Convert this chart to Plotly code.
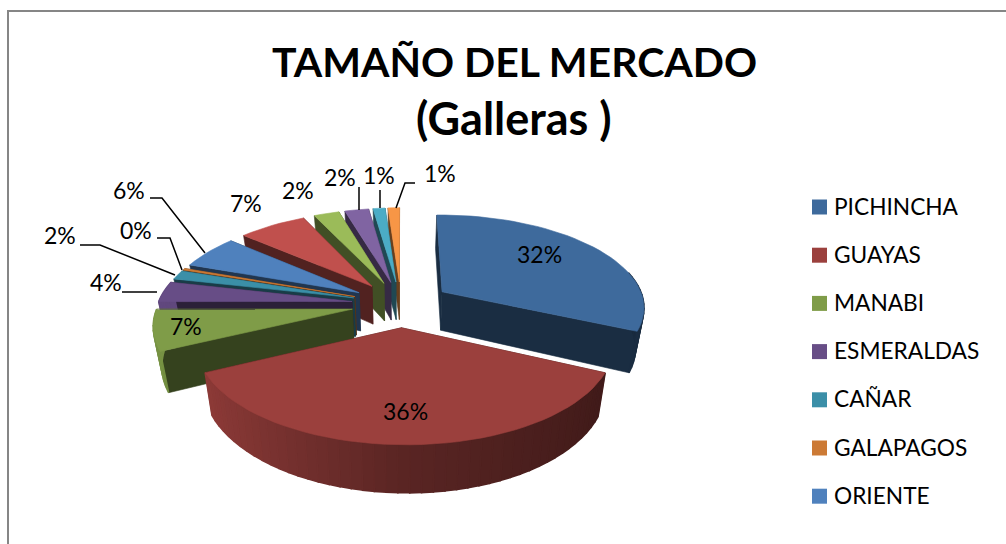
import math
import plotly.graph_objects as go

# ---- data ----
categories = ["PICHINCHA", "GUAYAS", "MANABI", "ESMERALDAS", "CAÑAR", "GALAPAGOS", "ORIENTE",
              "AZUAY", "LOJA", "TUNGURAHUA", "EL ORO", "IMBABURA"]
values = [31.8, 36.0, 7.1, 3.6, 1.6, 0.3, 5.9, 6.6, 2.45, 2.3, 1.15, 1.1]
percent_labels = ["32%", "36%", "7%", "4%", "2%", "0%", "6%", "7%", "2%", "2%", "1%", "1%"]
legend_count = 7
colors = ["#3e6a9c", "#9b403d", "#7f9c48", "#674d86", "#3b8fa8", "#cc7a35", "#4f81bd",
          "#c0504d", "#9bbb59", "#8064a2", "#4bacc6", "#f79646"]
title_lines = ["TAMAÑO DEL MERCADO", "(Galleras )"]

# ---- projection of the tilted, exploded disc into the 1006x544 plot frame ----
CX, CY, RX, RY, K, YAW, EXPLODE, DEPTH, SHRINK = 401, 304, 198.5, 91.5, 0.15, 0.015, 0.25, 39, 0.965


def project(u, v, bottom=False):
    s = 1 / (1 - K * v - YAW * u)
    x = CX + RX * u * s
    y = CY + RY * v * s
    if bottom:
        x = CX + (x - CX) * SHRINK
        y = y + DEPTH * s
    return x, y


def rgb(hex_color, f):
    r, g, b = (int(hex_color[i:i + 2], 16) for i in (1, 3, 5))
    return f"rgb({min(255, round(r * f))},{min(255, round(g * f))},{min(255, round(b * f))})"


def wall_shade(theta):
    s = math.sin(theta)
    return 0.58 - 0.18 * s if s > 0 else 0.58 - 0.36 * s


fig = go.Figure()


def poly(points, color, lw=0.6):
    xs, ys = zip(*points)
    fig.add_trace(go.Scatter(x=list(xs) + [xs[0]], y=list(ys) + [ys[0]], mode="lines", fill="toself",
                             fillcolor=color, line=dict(color=color, width=lw),
                             hoverinfo="skip", showlegend=False))


total = sum(values)
slices = []
start = 0.0
for i, val in enumerate(values):
    sweep = 2 * math.pi * val / total
    slices.append((i, start, start + sweep))
    start += sweep

# paint back to front
slices.sort(key=lambda t: -math.cos((t[1] + t[2]) / 2))

for i, a0, a1 in slices:
    mid = (a0 + a1) / 2
    du, dv = EXPLODE * math.sin(mid), -EXPLODE * math.cos(mid)
    n = max(3, int((a1 - a0) / 0.05))
    thetas = [a0 + (a1 - a0) * j / n for j in range(n + 1)]
    rim = [(du + math.sin(t), dv - math.cos(t)) for t in thetas]
    apex = (du, dv)
    col = colors[i]
    dark = rgb(col, 0.42)

    walls = sorted([rim[0], rim[-1]], key=lambda p: p[1])
    for p in walls:
        poly([project(*apex), project(*p), project(*p, bottom=True), project(*apex, bottom=True)], dark)
    for j in range(n):
        tm = (thetas[j] + thetas[j + 1]) / 2
        if -math.cos(tm) > -0.2:
            poly([project(*rim[j]), project(*rim[j + 1]),
                  project(*rim[j + 1], bottom=True), project(*rim[j], bottom=True)],
                 rgb(col, wall_shade(tm)), lw=1.6)
    poly([project(*apex)] + [project(*p) for p in rim], col)

# legend: seven entries are visible in the reference
LEGEND_Y0, LEGEND_STEP = 207, 48.2
for i in range(legend_count):
    fig.add_trace(go.Scatter(x=[819.5], y=[LEGEND_Y0 + i * LEGEND_STEP], mode="markers",
                             marker=dict(symbol="square", size=15, color=colors[i]),
                             name=categories[i], hoverinfo="skip", showlegend=False))

# percent labels (placement by hand, text from the data)
label_pos = [(539, 254), (405, 411), (186, 326), (106, 282), (60, 235), (136, 230),
             (129, 190), (246, 203), (298, 190), (340, 177), (379, 175), (440, 173)]
annotations = [dict(x=x, y=y, text=t, showarrow=False, xanchor="center", yanchor="middle",
                    font=dict(family="Lato", size=23, color="#000000"))
               for t, (x, y) in zip(percent_labels, label_pos)]
annotations += [dict(x=832, y=LEGEND_Y0 - 1 + i * LEGEND_STEP, text=categories[i], showarrow=False,
                     xanchor="left", yanchor="middle",
                     font=dict(family="Lato", size=22.7, color="#000000"))
                for i in range(legend_count)]
annotations += [dict(x=514, y=y, text=t, showarrow=False, xanchor="center", yanchor="middle",
                     font=dict(family="Lato", size=s, color="#000000", weight="bold"))
                for t, y, s in zip(title_lines, (61, 118), (41, 45))]

leaders = [[(122, 292), (157, 292)],
           [(80, 245), (100, 245), (175, 275)],
           [(157, 238), (170, 238), (182, 270)],
           [(150, 198), (162, 198), (205, 253)],
           [(359, 187), (359, 210)],
           [(380, 190), (380, 208)],
           [(415, 183), (405, 183), (396, 208)]]
for pts in leaders:
    fig.add_trace(go.Scatter(x=[p[0] for p in pts], y=[p[1] for p in pts], mode="lines",
                             line=dict(color="#000000", width=1.5), hoverinfo="skip", showlegend=False))

frame = [dict(type="line", x0=8, x1=8, y0=10.5, y1=544, line=dict(color="#868686", width=2)),
         dict(type="line", x0=7, x1=1006, y0=11, y1=11, line=dict(color="#868686", width=2))]

fig.update_layout(width=1006, height=544, margin=dict(l=0, r=0, t=0, b=0),
                  paper_bgcolor="#ffffff", plot_bgcolor="#ffffff", showlegend=False,
                  xaxis=dict(range=[0, 1006], visible=False, fixedrange=True),
                  yaxis=dict(range=[544, 0], visible=False, fixedrange=True),
                  annotations=annotations, shapes=frame)
fig.write_html("out.html", config={"displayModeBar": False},
               post_script="document.body.style.margin='0';document.body.style.overflow='hidden';")
